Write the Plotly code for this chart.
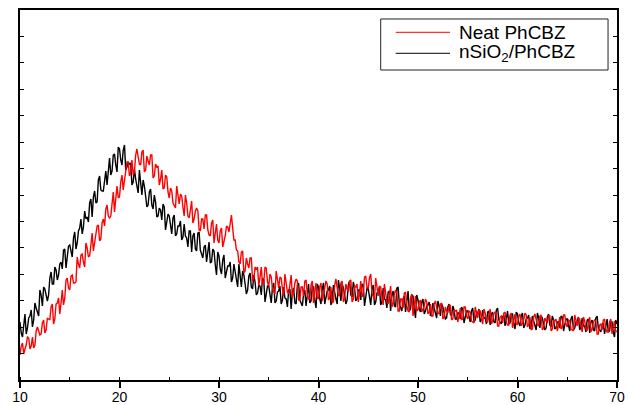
import plotly.graph_objects as go

# 2-theta (degrees): main samples every 0.25 deg and in-between samples
two_theta = [round(10 + 0.25 * i, 3) for i in range(241)]
two_theta_mid = [round(10.125 + 0.25 * i, 3) for i in range(240)]

# nSiO2/PhCBZ intensity (a.u.)
nsio2_phcbz = [
    58, 43, 66, 52, 64, 53, 77, 67, 90, 74,
    91, 79, 102, 96, 113, 100, 116, 111, 131, 122,
    135, 123, 148, 137, 152, 146, 169, 163, 177, 163,
    189, 178, 204, 189, 203, 195, 222, 209, 226, 208,
    231, 215, 235, 213, 216, 195, 211, 193, 210, 185,
    194, 173, 188, 175, 185, 163, 172, 160, 173, 157,
    164, 146, 165, 146, 154, 140, 156, 142, 149, 128,
    147, 129, 148, 126, 133, 118, 138, 118, 129, 105,
    124, 106, 125, 107, 114, 98, 116, 99, 116, 93,
    105, 86, 104, 93, 105, 85, 95, 85, 100, 85,
    94, 77, 97, 79, 89, 76, 93, 81, 90, 71,
    92, 76, 97, 77, 86, 74, 96, 79, 93, 72,
    93, 76, 97, 81, 90, 75, 95, 81, 100, 79,
    92, 76, 95, 85, 98, 79, 90, 80, 95, 82,
    91, 75, 95, 78, 87, 75, 92, 80, 88, 69,
    89, 73, 93, 73, 81, 68, 89, 71, 84, 62,
    80, 68, 81, 69, 75, 64, 77, 67, 79, 64,
    73, 61, 73, 66, 74, 61, 67, 61, 71, 62,
    69, 58, 72, 60, 67, 58, 70, 62, 68, 55,
    68, 57, 72, 58, 63, 54, 69, 57, 66, 51,
    66, 54, 67, 55, 62, 51, 64, 54, 67, 52,
    62, 50, 63, 55, 64, 51, 58, 52, 63, 54,
    61, 49, 64, 52, 59, 50, 62, 54, 60, 47,
    60, 49, 64, 50, 55, 46, 61, 49, 58, 43,
    56,
]
nsio2_phcbz_mid = [
    47, 59, 46, 62, 70, 60, 72, 64, 85, 93,
    86, 85, 108, 96, 110, 105, 118, 130, 112, 134,
    129, 142, 131, 149, 161, 153, 161, 158, 181, 183,
    177, 200, 190, 189, 209, 210, 205, 225, 215, 233,
    220, 230, 210, 218, 217, 198, 201, 187, 200, 200,
    184, 175, 191, 171, 178, 164, 170, 176, 150, 166,
    155, 162, 144, 154, 159, 143, 144, 133, 149, 144,
    131, 147, 130, 122, 135, 129, 117, 131, 115, 128,
    111, 120, 102, 114, 118, 102, 107, 93, 107, 109,
    96, 90, 107, 91, 98, 87, 94, 102, 78, 94,
    86, 93, 77, 88, 94, 80, 82, 73, 91, 88,
    77, 95, 80, 74, 90, 86, 77, 93, 80, 96,
    81, 91, 76, 89, 94, 80, 87, 76, 92, 96,
    85, 80, 99, 83, 92, 81, 90, 96, 74, 92,
    83, 91, 75, 87, 93, 78, 81, 72, 89, 85,
    74, 92, 76, 69, 84, 80, 69, 85, 71, 85,
    71, 78, 66, 74, 78, 68, 72, 62, 74, 76,
    67, 62, 76, 64, 70, 61, 67, 73, 57, 69,
    64, 69, 58, 66, 71, 61, 62, 56, 69, 66,
    58, 70, 60, 56, 65, 62, 56, 66, 56, 68,
    57, 64, 52, 61, 65, 54, 59, 50, 62, 64,
    56, 52, 66, 53, 60, 52, 58, 64, 49, 61,
    55, 61, 50, 58, 63, 53, 54, 48, 61, 58,
    50, 62, 52, 48, 57, 54, 48, 58, 48, 60,
]

# Neat PhCBZ intensity (a.u.)
neat_phcbz = [
    25, 37, 31, 43, 31, 43, 35, 53, 45, 57,
    47, 62, 60, 76, 61, 77, 66, 90, 82, 102,
    90, 105, 97, 123, 112, 126, 113, 132, 124, 147,
    136, 154, 139, 157, 154, 175, 162, 181, 168, 194,
    183, 205, 199, 218, 204, 220, 208, 231, 216, 228,
    208, 224, 215, 225, 204, 213, 195, 210, 192, 203,
    182, 189, 174, 194, 176, 184, 164, 177, 162, 179,
    161, 172, 150, 161, 151, 165, 145, 157, 137, 156,
    137, 152, 139, 154, 148, 165, 140, 130, 118, 128,
    107, 122, 112, 122, 101, 111, 94, 113, 98, 112,
    94, 103, 88, 109, 92, 102, 84, 99, 86, 105,
    88, 101, 80, 93, 84, 100, 81, 95, 77, 97,
    81, 97, 85, 99, 80, 93, 78, 101, 85, 97,
    78, 96, 88, 100, 81, 93, 78, 99, 87, 104,
    92, 106, 82, 102, 84, 93, 75, 89, 76, 94,
    77, 90, 69, 81, 72, 88, 69, 82, 64, 84,
    70, 80, 71, 81, 66, 76, 64, 79, 67, 76,
    61, 73, 67, 75, 61, 69, 58, 72, 61, 73,
    61, 68, 58, 73, 62, 69, 56, 67, 58, 71,
    59, 68, 54, 63, 57, 68, 55, 65, 52, 66,
    55, 66, 57, 67, 53, 63, 51, 66, 55, 64,
    50, 62, 57, 64, 51, 59, 49, 63, 53, 65,
    53, 59, 50, 65, 54, 61, 48, 59, 50, 63,
    51, 60, 46, 55, 50, 61, 48, 58, 46, 59,
    48,
]
neat_phcbz_mid = [
    34, 26, 35, 42, 34, 32, 49, 48, 46, 60,
    50, 61, 73, 56, 76, 82, 77, 75, 100, 92,
    104, 97, 98, 116, 125, 118, 137, 123, 135, 129,
    147, 155, 141, 161, 171, 164, 164, 188, 181, 182,
    198, 190, 206, 218, 208, 205, 225, 223, 215, 230,
    210, 219, 225, 202, 216, 214, 201, 191, 205, 188,
    192, 177, 172, 184, 186, 173, 185, 164, 170, 157,
    169, 169, 149, 161, 165, 150, 144, 160, 147, 140,
    149, 133, 144, 153, 157, 152, 140, 129, 116, 129,
    109, 116, 122, 99, 113, 113, 103, 95, 113, 98,
    106, 91, 86, 100, 103, 91, 106, 88, 95, 83,
    97, 99, 80, 93, 99, 86, 81, 99, 87, 82,
    93, 79, 90, 96, 82, 77, 95, 92, 84, 99,
    82, 91, 99, 78, 94, 96, 87, 83, 103, 92,
    102, 87, 80, 92, 94, 83, 96, 78, 84, 73,
    86, 87, 69, 81, 87, 74, 68, 86, 75, 69,
    78, 68, 74, 78, 68, 64, 76, 72, 66, 77,
    63, 69, 74, 60, 70, 70, 64, 60, 73, 64,
    69, 59, 57, 67, 70, 62, 71, 59, 64, 56,
    66, 67, 54, 64, 67, 58, 55, 67, 59, 56,
    64, 54, 60, 65, 55, 50, 63, 60, 54, 65,
    52, 59, 64, 49, 60, 61, 55, 51, 65, 56,
    60, 51, 49, 59, 62, 54, 63, 51, 56, 48,
    58, 59, 46, 56, 60, 51, 48, 61, 53, 49,
]

series_names = ["Neat PhCBZ", "nSiO<sub>2</sub>/PhCBZ"]
series_colors = ["#ff0000", "#000000"]
x_ticks = [10, 20, 30, 40, 50, 60, 70]


def merged(xs_a, ys_a, xs_b, ys_b):
    pts = sorted(list(zip(xs_a, ys_a)) + list(zip(xs_b, ys_b)))
    return [p[0] for p in pts], [p[1] for p in pts]


bx, by = merged(two_theta, nsio2_phcbz, two_theta_mid, nsio2_phcbz_mid)
rx, ry = merged(two_theta, neat_phcbz, two_theta_mid, neat_phcbz_mid)

fig = go.Figure()
fig.add_trace(go.Scatter(x=bx, y=by, mode="lines",
                         line=dict(color=series_colors[1], width=1.4),
                         name=series_names[1], showlegend=False, hoverinfo="skip"))
fig.add_trace(go.Scatter(x=rx, y=ry, mode="lines",
                         line=dict(color=series_colors[0], width=1.4),
                         name=series_names[0], showlegend=False, hoverinfo="skip"))

fig.update_layout(
    width=633, height=405,
    margin=dict(l=20, r=16, t=10, b=25),
    paper_bgcolor="white", plot_bgcolor="white",
    font=dict(family="Liberation Sans, Arial, sans-serif", color="black"),
    xaxis=dict(range=[10, 70], tickvals=x_ticks, ticktext=[str(v) for v in x_ticks],
               ticks="outside", ticklen=6, tickwidth=1.5, tickcolor="black",
               showline=True, linewidth=2, linecolor="black", mirror=True,
               showgrid=False, zeroline=False, automargin=False,
               tickfont=dict(size=14), ticklabelstandoff=-3,
               minor=dict(ticks="inside", dtick=5, tick0=10, ticklen=3,
                          tickwidth=1.2, tickcolor="black", showgrid=False)),
    xaxis2=dict(range=[10, 70], overlaying="x", side="top", anchor="y",
                ticks="inside", dtick=5, tick0=10, ticklen=3, tickwidth=1.2,
                tickcolor="black", showticklabels=False, showline=False,
                showgrid=False, zeroline=False),
    yaxis=dict(range=[0, 370], tick0=0, dtick=370 / 14,
               ticks="inside", ticklen=4, tickwidth=1.2, tickcolor="black",
               showticklabels=False, showline=True, linewidth=2,
               linecolor="black", mirror="allticks",
               showgrid=False, zeroline=False),
)

# legend drawn as box + sample lines + text
lx0, lx1, ly0, ly1 = 0.6042, 0.985, 0.8378, 0.9757
shapes = [
    dict(type="rect", xref="paper", yref="paper", x0=lx0, x1=lx1, y0=ly0, y1=ly1,
         line=dict(color="#222222", width=1), fillcolor="white", layer="above"),
]
rows_y = [0.9397, 0.8830]
for name, color, yy in zip(series_names, series_colors, rows_y):
    shapes.append(dict(type="line", xref="paper", yref="paper",
                       x0=0.6293, x1=0.7203, y0=yy, y1=yy,
                       line=dict(color=color, width=1), layer="above"))
    fig.add_annotation(x=0.7315, y=yy, xref="paper", yref="paper",
                       text=name, showarrow=False, xanchor="left", yanchor="middle",
                       font=dict(size=19, color="black",
                                 family="Liberation Sans, Arial, sans-serif"))
fig.update_layout(shapes=shapes)

fig.write_html("out.html", config={"displayModeBar": False},
               post_script="document.body.style.margin='0';document.body.style.overflow='hidden';")
